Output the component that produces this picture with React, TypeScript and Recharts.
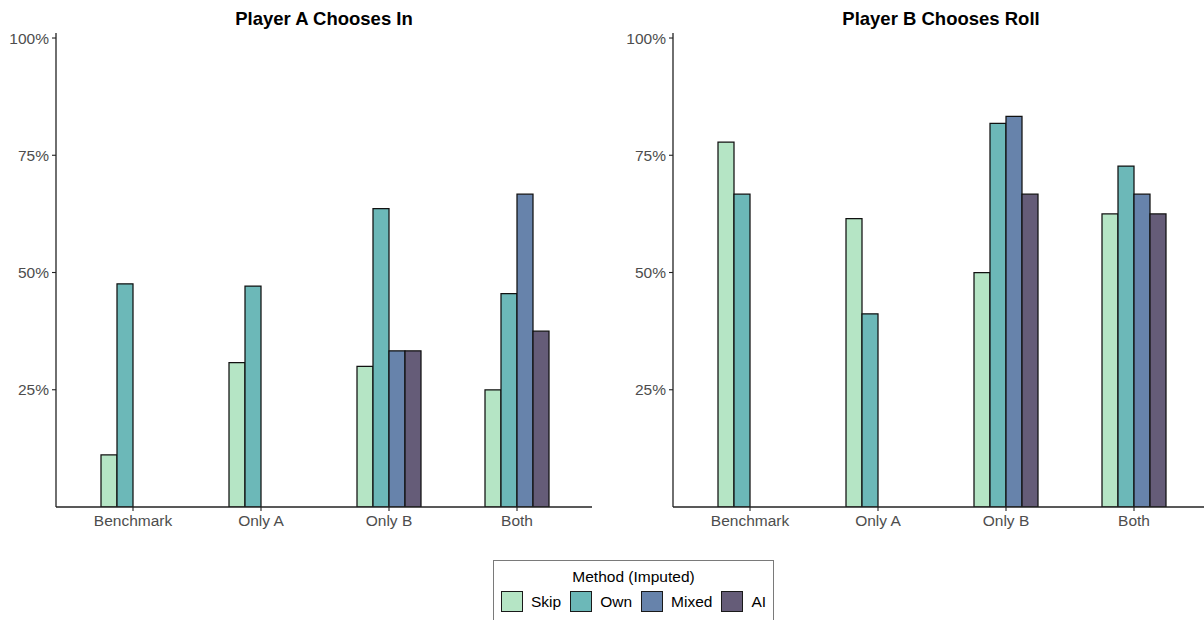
import React from "react";
import { BarChart, Bar, XAxis, YAxis } from "recharts";

const categories = ["Benchmark", "Only A", "Only B", "Both"];
const methods = ["Skip", "Own", "Mixed", "AI"];
const methodColors = ["#b5e5c5", "#6cb8b8", "#6783ab", "#655c78"];

// Player A Chooses In
const aSkip = [0.111, 0.308, 0.3, 0.25];
const aOwn = [0.476, 0.471, 0.636, 0.455];
const aMixed = [null, null, 0.333, 0.667];
const aAI = [null, null, 0.333, 0.375];

// Player B Chooses Roll
const bSkip = [0.778, 0.615, 0.5, 0.625];
const bOwn = [0.667, 0.412, 0.818, 0.727];
const bMixed = [null, null, 0.833, 0.667];
const bAI = [null, null, 0.667, 0.625];

const yTicks = [0.25, 0.5, 0.75, 1];
const titles = ["Player A Chooses In", "Player B Chooses Roll"];
const legendTitle = "Method (Imputed)";

const FONT = "'Liberation Sans', Arial, Helvetica, sans-serif";

function build(skip: (number | null)[], own: (number | null)[], mixed: (number | null)[], ai: (number | null)[]) {
  return categories.map((c, i) => ({
    cat: c,
    Skip: skip[i],
    Own: own[i],
    Mixed: mixed[i],
    AI: ai[i],
  }));
}

const dataA = build(aSkip, aOwn, aMixed, aAI);
const dataB = build(bSkip, bOwn, bMixed, bAI);

const CHART_W = 600;
const CHART_H = 537;
const Y_W = 56;

function Panel({ data, title, left }: { data: any[]; title: string; left: number }) {
  return (
    <div style={{ position: "absolute", left, top: 0, width: CHART_W, height: CHART_H }}>
      <div
        style={{
          position: "absolute",
          left: Y_W,
          width: 536,
          top: 8,
          textAlign: "center",
          fontFamily: FONT,
          fontWeight: "bold",
          fontSize: 18.5,
          color: "#000",
        }}
      >
        {title}
      </div>
      <BarChart
        width={CHART_W}
        height={CHART_H}
        data={data}
        margin={{ top: 33, right: 8, bottom: 0, left: 0 }}
        barCategoryGap={32}
        barGap={0}
      >
        <XAxis
          dataKey="cat"
          padding={{ left: 13, right: 11 }}
          height={30}
          tickSize={4}
          tickMargin={4}
          axisLine={{ stroke: "#222", strokeWidth: 1.3 }}
          tickLine={{ stroke: "#222", strokeWidth: 1.1 }}
          tick={{ fill: "#4d4d4d", fontSize: 15.5, fontFamily: FONT }}
          interval={0}
        />
        <YAxis
          width={Y_W}
          domain={[0, 1.0107]}
          ticks={yTicks}
          tickFormatter={(v: number) => `${Math.round(v * 100)}%`}
          tickSize={4}
          tickMargin={3}
          axisLine={{ stroke: "#222", strokeWidth: 1.3 }}
          tickLine={{ stroke: "#222", strokeWidth: 1.1 }}
          tick={{ fill: "#4d4d4d", fontSize: 15.5, fontFamily: FONT }}
          allowDataOverflow
        />
        {methods.map((m, i) => (
          <Bar
            key={m}
            dataKey={m}
            fill={methodColors[i]}
            stroke="#111"
            strokeWidth={1.25}
            isAnimationActive={false}
          />
        ))}
      </BarChart>
    </div>
  );
}

function Legend() {
  return (
    <div
      style={{
        position: "absolute",
        left: 493,
        top: 560,
        width: 281,
        height: 70,
        border: "1px solid #7a7a7a",
        boxSizing: "border-box",
        fontFamily: FONT,
        fontSize: 15.5,
        color: "#000",
      }}
    >
      <div style={{ position: "absolute", top: 7, left: 0, width: "100%", textAlign: "center" }}>{legendTitle}</div>
      <div style={{ position: "absolute", top: 30, left: 7, display: "flex", alignItems: "center" }}>
        {methods.map((m, i) => (
          <div key={m} style={{ display: "flex", alignItems: "center", marginRight: 9 }}>
            <div
              style={{
                width: 22,
                height: 21,
                background: methodColors[i],
                border: "1.3px solid #1a1a1a",
                boxSizing: "border-box",
                marginRight: 8,
              }}
            />
            <span>{m}</span>
          </div>
        ))}
      </div>
    </div>
  );
}

export default function App() {
  return (
    <div
      style={{
        position: "absolute",
        left: 0,
        top: 0,
        width: 1204,
        height: 620,
        overflow: "hidden",
        background: "#fff",
      }}
    >
      <Panel data={dataA} title={titles[0]} left={0} />
      <Panel data={dataB} title={titles[1]} left={617} />
      <Legend />
    </div>
  );
}
